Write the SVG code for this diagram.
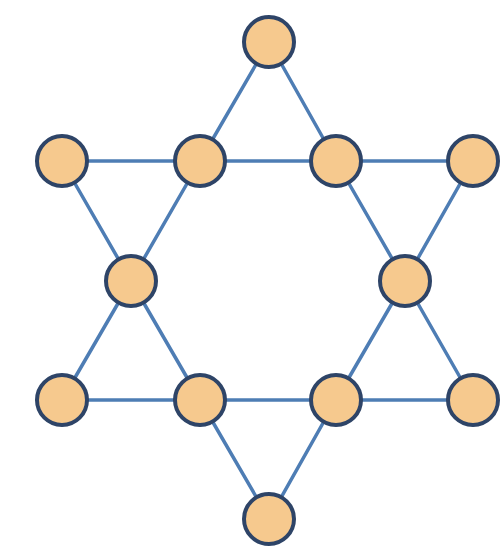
<svg xmlns="http://www.w3.org/2000/svg" width="503" height="549" viewBox="0 0 503 549">
<style>
.e{stroke:#4e7db4;stroke-width:3.5;fill:none;stroke-linecap:round}
.n{fill:#f6c98e;stroke:#2e4467;stroke-width:4}
</style>
<rect width="503" height="549" fill="#ffffff"/>
<g id="connectors">
<line class="e" x1="269" y1="42" x2="200" y2="161"/>
<line class="e" x1="200" y1="161" x2="131" y2="281"/>
<line class="e" x1="131" y1="281" x2="62" y2="400"/>
<line class="e" x1="269" y1="42" x2="336" y2="161"/>
<line class="e" x1="336" y1="161" x2="405" y2="281"/>
<line class="e" x1="405" y1="281" x2="473" y2="400"/>
<line class="e" x1="62" y1="400" x2="200" y2="400"/>
<line class="e" x1="200" y1="400" x2="336" y2="400"/>
<line class="e" x1="336" y1="400" x2="473" y2="400"/>
<line class="e" x1="62" y1="161" x2="200" y2="161"/>
<line class="e" x1="200" y1="161" x2="336" y2="161"/>
<line class="e" x1="336" y1="161" x2="473" y2="161"/>
<line class="e" x1="62" y1="161" x2="131" y2="281"/>
<line class="e" x1="131" y1="281" x2="200" y2="400"/>
<line class="e" x1="200" y1="400" x2="269" y2="519"/>
<line class="e" x1="473" y1="161" x2="405" y2="281"/>
<line class="e" x1="405" y1="281" x2="336" y2="400"/>
<line class="e" x1="336" y1="400" x2="269" y2="519"/>
</g>
<g id="n1"><circle class="n" cx="269" cy="42" r="25"/></g>
<g id="n2"><circle class="n" cx="62" cy="161" r="25"/></g>
<g id="n3"><circle class="n" cx="200" cy="161" r="25"/></g>
<g id="n4"><circle class="n" cx="336" cy="161" r="25"/></g>
<g id="n5"><circle class="n" cx="473" cy="161" r="25"/></g>
<g id="n6"><circle class="n" cx="131" cy="281" r="25"/></g>
<g id="n7"><circle class="n" cx="405" cy="281" r="25"/></g>
<g id="n8"><circle class="n" cx="62" cy="400" r="25"/></g>
<g id="n9"><circle class="n" cx="200" cy="400" r="25"/></g>
<g id="n10"><circle class="n" cx="336" cy="400" r="25"/></g>
<g id="n11"><circle class="n" cx="473" cy="400" r="25"/></g>
<g id="n12"><circle class="n" cx="269" cy="519" r="25"/></g>
</svg>
